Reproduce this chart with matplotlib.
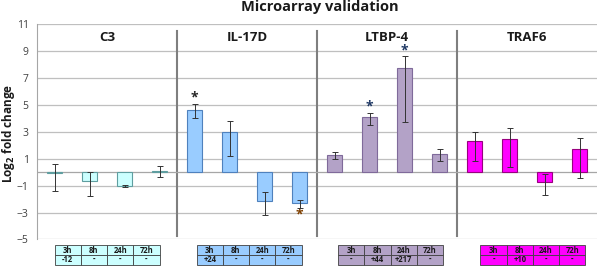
import numpy as np
import matplotlib
matplotlib.use("Agg")
import matplotlib.pyplot as plt
from matplotlib.patches import Rectangle

plt.rcParams['font.family'] = ['Open Sans', 'DejaVu Sans']

# Data
genes = ['C3', 'IL-17D', 'LTBP-4', 'TRAF6']
times = ['3h', '8h', '24h', '72h']
fold = {
    'C3':     [-0.05, -0.62, -1.0, 0.08],
    'IL-17D': [4.66, 3.0, -2.13, -2.26],
    'LTBP-4': [1.3, 4.11, 7.77, 1.35],
    'TRAF6':  [2.29, 2.47, -0.69, 1.72],
}
# error bar ends (upper, lower)
err_top = {
    'C3':     [0.6, 0.0, -0.92, 0.45],
    'IL-17D': [5.08, 3.78, -1.49, -2.04],
    'LTBP-4': [1.47, 4.41, 8.63, 1.72],
    'TRAF6':  [2.99, 3.31, -0.12, 2.57],
}
err_bot = {
    'C3':     [-1.37, -1.74, -1.1, -0.37],
    'IL-17D': [4.04, 1.22, -3.2, -2.63],
    'LTBP-4': [1.02, 3.51, 3.74, 0.83],
    'TRAF6':  [0.87, 0.38, -1.69, -0.4],
}
array_fc = {
    'C3':     ['-12', '-', '-', '-'],
    'IL-17D': ['+24', '-', '-', '-'],
    'LTBP-4': ['-', '+44', '+217', '-'],
    'TRAF6':  ['-', '+10', '-', '-'],
}
# significance marks: (gene, time index)
stars = [('IL-17D', 0), ('IL-17D', 3), ('LTBP-4', 1), ('LTBP-4', 2)]

fills = {'C3': '#ccffff', 'IL-17D': '#99ccff', 'LTBP-4': '#b3a2c7', 'TRAF6': '#ff00ff'}
edges = {'C3': '#5f9ea0', 'IL-17D': '#4f81bd', 'LTBP-4': '#7f6a9a', 'TRAF6': '#99007f'}
star_col = {('IL-17D', 0): '#262626', ('IL-17D', 3): '#7f3f00',
            ('LTBP-4', 1): '#1f3864', ('LTBP-4', 2): '#1f3864'}
table_shift = [0.0, 0.06, 0.1, 0.17]

fig = plt.figure(figsize=(6, 2.66), dpi=100)
ax = fig.add_axes([0.0617, 0.1, 0.9333, 0.808])

for g_i, g in enumerate(genes):
    x = np.arange(4) + 4 * g_i
    vals = np.array(fold[g])
    up = np.array(err_top[g]) - vals
    lo = vals - np.array(err_bot[g])
    ax.bar(x, vals, width=0.43, color=fills[g], edgecolor=edges[g], linewidth=0.8, zorder=3)
    ax.errorbar(x, vals, yerr=[lo, up], fmt='none', ecolor='#333333',
                elinewidth=0.7, capsize=2.2, capthick=0.7, zorder=4)
    ax.text(4 * g_i + 1.5, 10.05, g, ha='center', va='center', fontsize=9.5,
            fontweight='bold', color='#1a1a1a')

    # small table under each group
    x0 = 4 * g_i + table_shift[g_i]
    cw = 0.75
    for j in range(4):
        for r, (txt, ytop) in enumerate([(times[j], -5.44), (array_fc[g][j], -6.16)]):
            ax.add_patch(Rectangle((x0 + j * cw, ytop - 0.72), cw, 0.72, facecolor=fills[g],
                                   edgecolor='#404040', linewidth=0.6, clip_on=False))
            ax.text(x0 + j * cw + cw / 2, ytop - 0.36, txt, ha='center', va='center',
                    fontsize=5.5, fontweight='bold', color='#1a1a1a', clip_on=False)

for g, j in stars:
    g_i = genes.index(g)
    v = fold[g][j]
    if v >= 0:
        y = err_top[g][j] + 0.45
    else:
        y = err_bot[g][j] - 0.55
    ax.text(4 * g_i + j, y, '*', ha='center', va='center', fontsize=10,
            fontweight='bold', color=star_col[(g, j)])

# group separators
for xs in [3.5, 7.5, 11.5]:
    ax.plot([xs, xs], [-4.75, 10.48], color='#7f7f7f', linewidth=1.5, zorder=2)

ax.set_xlim(-0.5, 15.5)
ax.set_ylim(-5, 11)
ax.set_yticks(np.arange(-5, 12, 2))
ax.set_xticks([])
ax.yaxis.grid(True, color='#bfbfbf', linewidth=0.9)
ax.set_axisbelow(True)
ax.axhline(0, color='#a6a6a6', linewidth=0.9, zorder=2)
for s in ['top', 'right', 'bottom']:
    ax.spines[s].set_visible(False)
ax.spines['left'].set_color('#a6a6a6')
ax.tick_params(axis='y', length=0, labelsize=7.5, labelcolor='#404040', pad=6)

fig.text(0.533, 0.972, 'Microarray validation', ha='center', va='center',
         fontsize=10.5, fontweight='bold', color='#1a1a1a')
fig.text(0.014, 0.5, r'Log$_\mathbf{2}$ fold change', rotation=90, ha='center', va='center',
         fontsize=8.5, fontweight='bold', color='#1a1a1a')

fig.savefig('out.png', dpi=100)
